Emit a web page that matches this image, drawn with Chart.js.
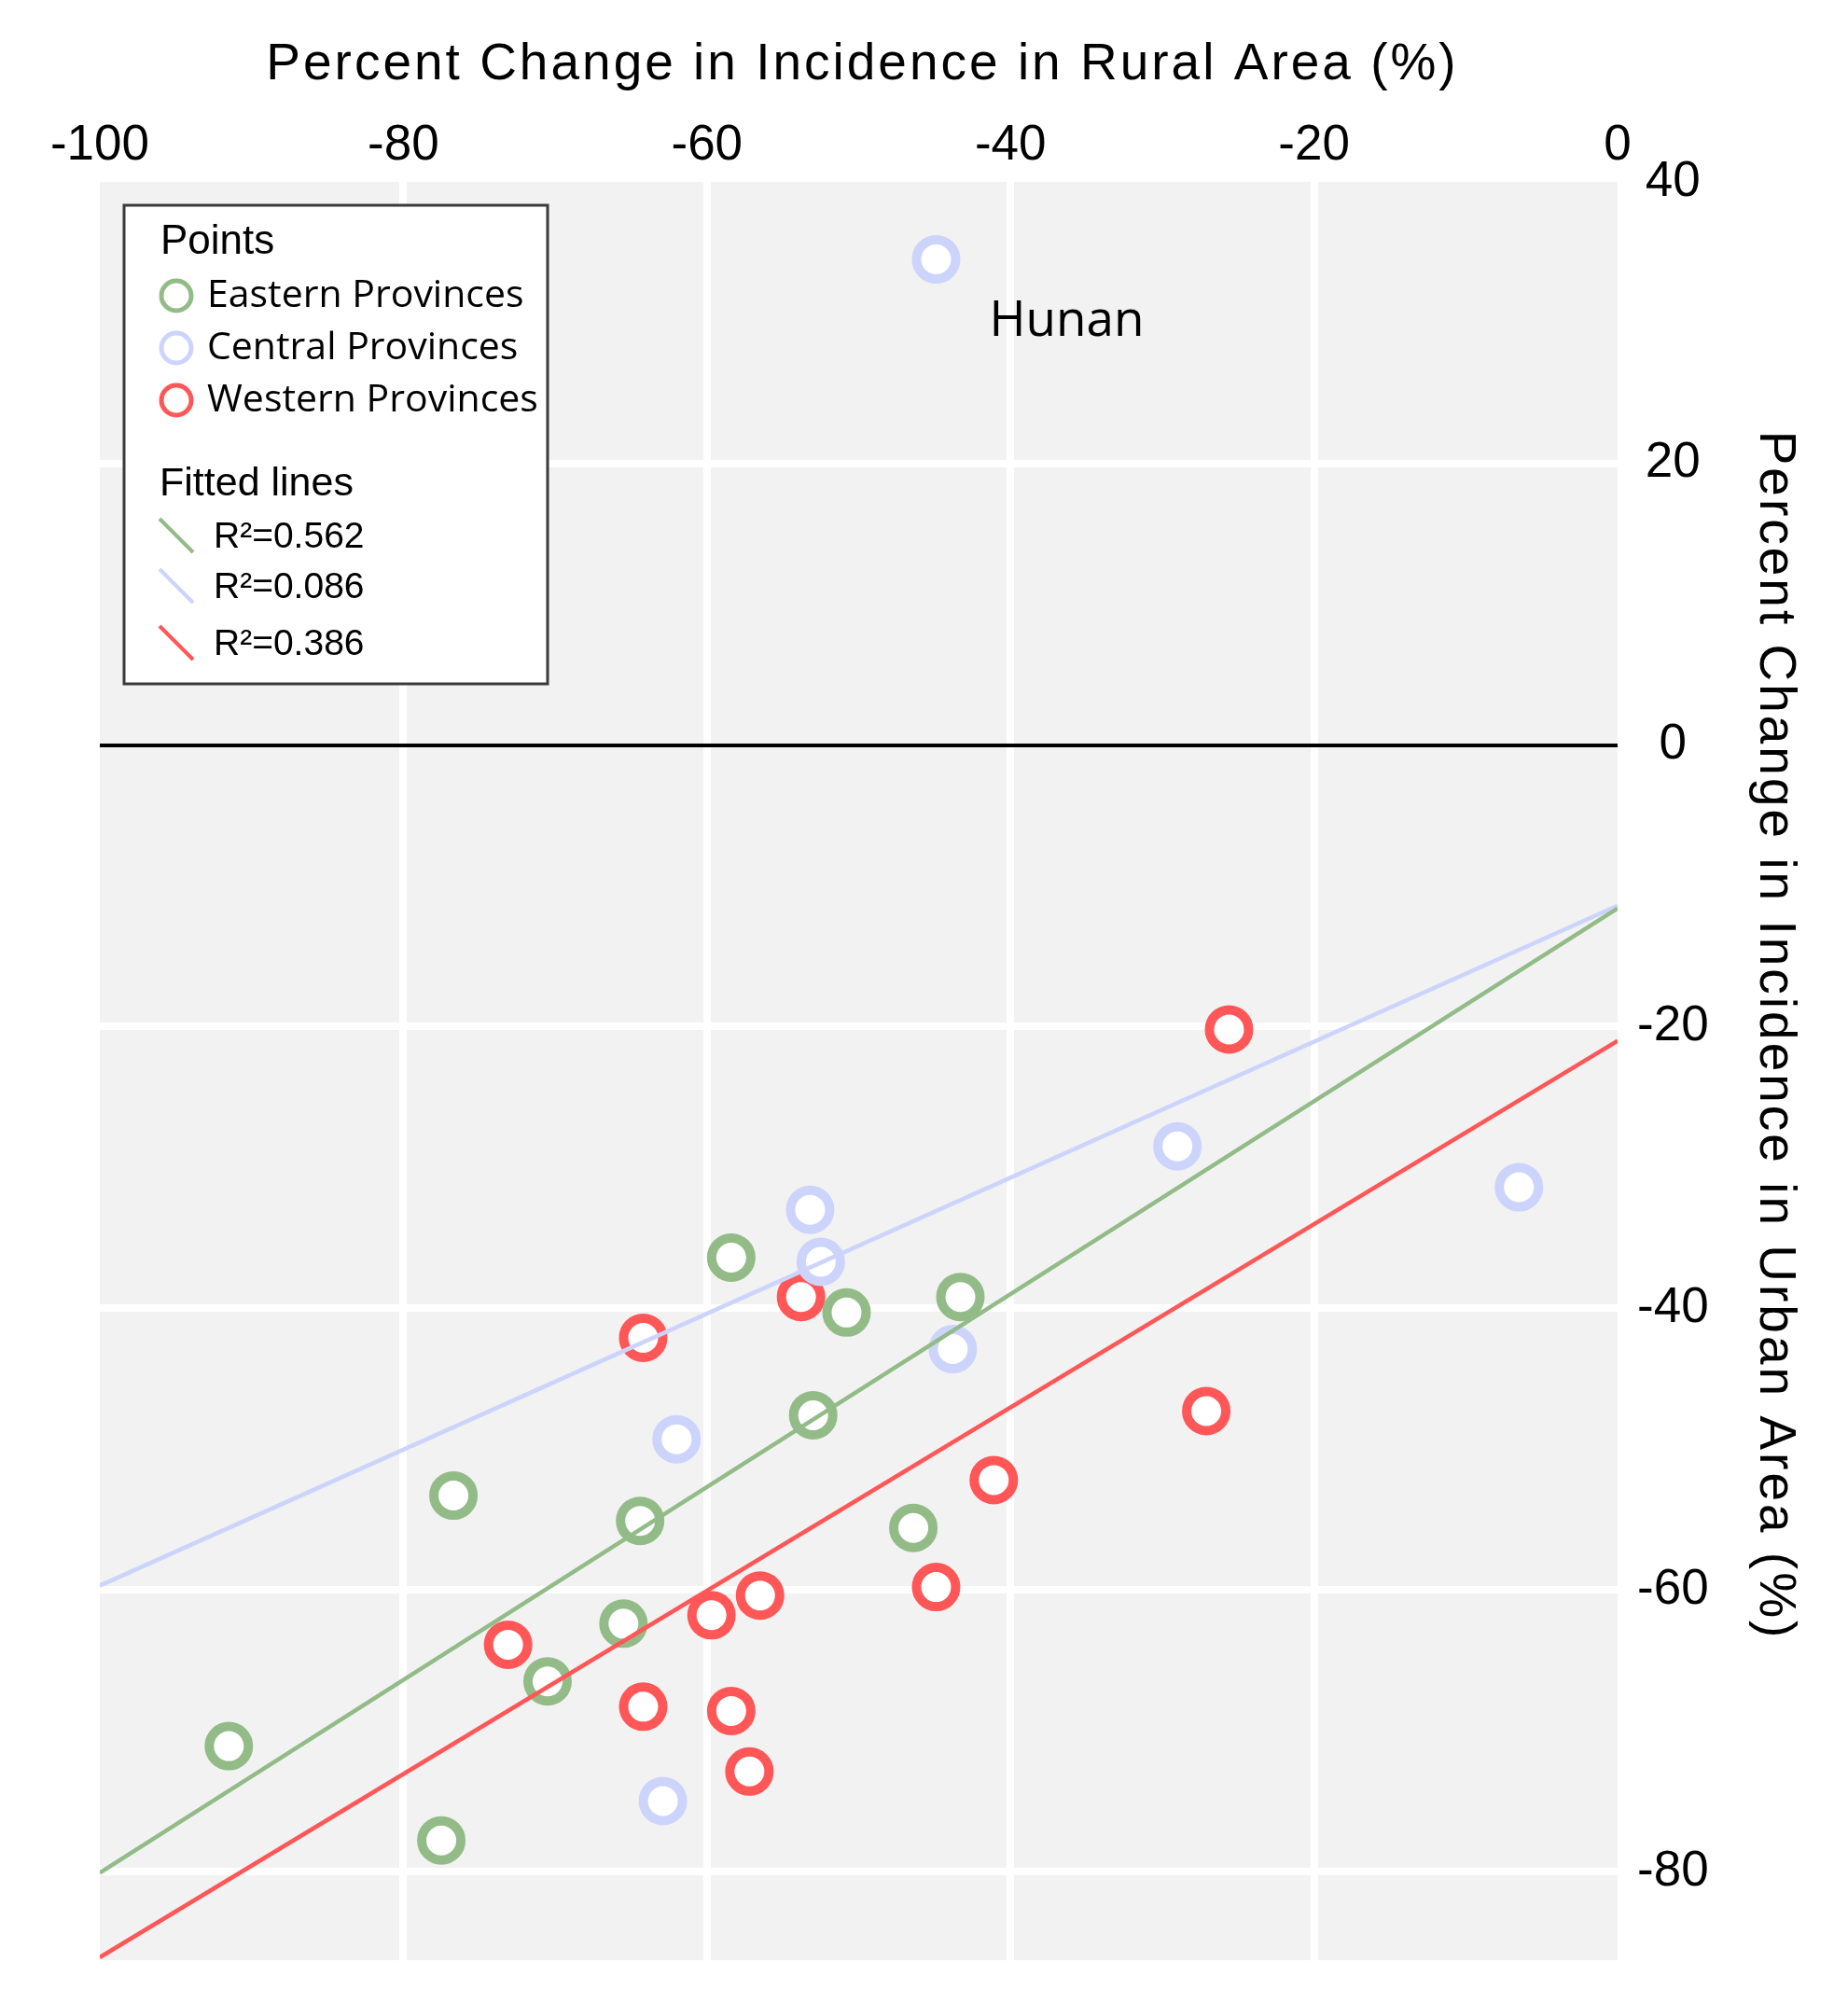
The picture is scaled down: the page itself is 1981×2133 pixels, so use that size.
<!DOCTYPE html>
<html>
<head>
<meta charset="utf-8">
<title>Percent change in incidence, rural vs urban</title>
<script src="https://cdn.jsdelivr.net/npm/chart.js"></script>
<style>
  html, body { margin: 0; padding: 0; background: #fff; }
  #scatterChart { display: block; }
</style>
</head>
<body>
<canvas id="scatterChart" width="1981" height="2133"></canvas>
<script>
// Eastern provinces (x = rural %, y = urban %)
const eastX = [-91.5, -77.5, -76.7, -70.5, -65.5, -64.4, -58.4, -53.0, -50.8, -46.4, -43.3];
const eastY = [-71.1, -77.8, -53.3, -66.5, -62.4, -55.1, -36.4, -47.6, -40.3, -55.6, -39.2];

// Central provinces, first one is Hunan
const centralX = [-44.9, -62.9, -62.0, -53.2, -52.5, -43.8, -29.0, -6.5];
const centralY = [34.5, -75.0, -49.3, -33.0, -36.7, -42.9, -28.5, -31.4];
const hunanIndex = 0;

// Western provinces
const westX = [-73.1, -64.2, -64.2, -59.7, -58.4, -57.2, -56.5, -53.8, -44.9, -41.1, -27.1, -25.6];
const westY = [-63.9, -42.1, -68.3, -61.8, -68.6, -72.9, -60.4, -39.2, -59.8, -52.2, -47.3, -20.2];

// fitted lines, ends
const fitX = [-100, 0];
const eastFitY = [-80.1, -11.6];
const centralFitY = [-59.7, -11.4];
const westFitY = [-86.1, -21.0];

const groupLabels = ['Eastern Provinces', 'Central Provinces', 'Western Provinces'];
const fitLabels = ['R\u00b2=0.562', 'R\u00b2=0.086', 'R\u00b2=0.386'];
const groupColors = ['#93bb88', '#cdd4fc', '#ff5757'];

const xTitle = 'Percent Change in Incidence in Rural Area (%)';
const yTitle = 'Percent Change in Incidence in Urban Area (%)';


function toPoints(xs, ys) {
    return xs.map((x, i) => ({ x: x, y: ys[i] }));
}

function pointSet(label, xs, ys, color) {
    return {
        label: label,
        data: toPoints(xs, ys),
        showLine: false,
        pointRadius: 21,
        pointHoverRadius: 21,
        pointBorderWidth: 10,
        pointBorderColor: color,
        pointBackgroundColor: '#ffffff',
        order: 2
    };
}

function fitSet(label, ys, color) {
    return {
        label: label,
        data: toPoints(fitX, ys),
        showLine: true,
        borderColor: color,
        borderWidth: 4.5,
        pointRadius: 0,
        pointHoverRadius: 0,
        fill: false,
        order: 1
    };
}

// gray panel behind the grid
const panelPlugin = {
    id: 'panel',
    beforeDraw(chart) {
        const { ctx, chartArea: a } = chart;
        ctx.save();
        ctx.fillStyle = '#ffffff';
        ctx.fillRect(0, 0, chart.width, chart.height);
        ctx.fillStyle = '#f2f2f2';
        ctx.fillRect(a.left, a.top, a.right - a.left, a.bottom - a.top);
        ctx.restore();
    }
};

// axis titles are letter-spaced, so they are drawn here
const titlesPlugin = {
    id: 'titles',
    afterDraw(chart) {
        const { ctx, chartArea: a } = chart;
        ctx.save();
        ctx.fillStyle = '#000';
        ctx.font = '55px "Liberation Sans"';
        ctx.letterSpacing = '3px';
        ctx.textAlign = 'center';
        ctx.textBaseline = 'alphabetic';
        ctx.fillText(xTitle, (a.left + a.right) / 2 + 4, 85);

        ctx.translate(a.right + 153, (a.top + a.bottom) / 2 - 38);
        ctx.rotate(Math.PI / 2);
        ctx.fillText(yTitle, 0, 0);
        ctx.restore();
    }
};

const hunanPlugin = {
    id: 'hunan',
    afterDatasetsDraw(chart) {
        const pt = chart.getDatasetMeta(1).data[hunanIndex];
        if (!pt) return;
        const ctx = chart.ctx;
        ctx.save();
        ctx.fillStyle = '#000';
        ctx.font = '53px "Open Sans"';
        ctx.textAlign = 'center';
        ctx.textBaseline = 'alphabetic';
        ctx.fillText('Hunan', pt.x + 140, pt.y + 82);
        ctx.restore();
    }
};

// legend with two groups: points and fitted lines
const boxLegendPlugin = {
    id: 'boxLegend',
    afterDraw(chart) {
        const { ctx, chartArea: a } = chart;
        const bx = a.left + 26;
        const by = a.top + 25;
        ctx.save();
        ctx.fillStyle = '#ffffff';
        ctx.fillRect(bx, by, 454, 513);
        ctx.strokeStyle = '#3a3a3a';
        ctx.lineWidth = 3;
        ctx.strokeRect(bx, by, 454, 513);

        ctx.fillStyle = '#000';
        ctx.textAlign = 'left';
        ctx.textBaseline = 'middle';
        ctx.font = '44px "Liberation Sans"';
        ctx.fillText('Points', bx + 39, by + 40);

        groupLabels.forEach((label, i) => {
            const cy = by + 97 + i * 56;
            ctx.beginPath();
            ctx.arc(bx + 56, cy, 16, 0, Math.PI * 2);
            ctx.strokeStyle = groupColors[i];
            ctx.lineWidth = 5;
            ctx.stroke();
            ctx.fillStyle = '#000';
            ctx.font = '41px "Open Sans"';
            ctx.fillText(label, bx + 89, cy, 355);
        });

        ctx.font = '43px "Liberation Sans"';
        ctx.fillText('Fitted lines', bx + 38, by + 299);

        const rowY = [354, 408, 469];
        fitLabels.forEach((label, i) => {
            const cy = by + rowY[i];
            ctx.beginPath();
            ctx.moveTo(bx + 38, cy - 18);
            ctx.lineTo(bx + 74, cy + 18);
            ctx.strokeStyle = groupColors[i];
            ctx.lineWidth = 4;
            ctx.stroke();
            ctx.fillStyle = '#000';
            ctx.font = '39px "Liberation Sans"';
            ctx.fillText(label, bx + 96, cy + 2);
        });
        ctx.restore();
    }
};

function gridColor(edges) {
    return (c) => {
        const v = c.tick ? c.tick.value : null;
        if (v === 0 && c.scale.axis === 'y') return '#000000';
        if (edges.includes(v)) return 'rgba(0,0,0,0)';
        return '#ffffff';
    };
}

const tickFont = { family: 'Liberation Sans', size: 53 };

const ctx = document.getElementById('scatterChart').getContext('2d');
const scatterChartInstance = new Chart(ctx, {
    type: 'scatter',
    data: {
        datasets: [
            pointSet(groupLabels[0], eastX, eastY, groupColors[0]),
            pointSet(groupLabels[1], centralX, centralY, groupColors[1]),
            pointSet(groupLabels[2], westX, westY, groupColors[2]),
            fitSet(fitLabels[0], eastFitY, groupColors[0]),
            fitSet(fitLabels[1], centralFitY, groupColors[1]),
            fitSet(fitLabels[2], westFitY, groupColors[2])
        ]
    },
    options: {
        responsive: false,
        devicePixelRatio: 1,
        animation: false,
        layout: { padding: { left: 107, right: 0, top: 0, bottom: 32 } },
        plugins: {
            legend: { display: false },
            tooltip: { enabled: false }
        },
        scales: {
            x: {
                type: 'linear',
                position: 'top',
                min: -100,
                max: 0,
                ticks: { stepSize: 20, color: '#000', font: tickFont, padding: 7, maxRotation: 0 },
                grid: { color: gridColor([-100, 0]), lineWidth: 8, drawTicks: false },
                border: { display: false },
                afterFit: (scale) => { scale.height = 195; }
            },
            y: {
                type: 'linear',
                position: 'right',
                min: -86.3,
                max: 40,
                ticks: { stepSize: 20, includeBounds: false, color: '#000', font: tickFont, padding: 21, crossAlign: 'center' },
                grid: {
                    color: gridColor([40]),
                    lineWidth: (c) => (c.tick && c.tick.value === 0 ? 4 : 8),
                    drawTicks: false
                },
                border: { display: false },
                afterFit: (scale) => {
                    scale.width = 247;
                    scale.paddingTop = 0;
                    scale.paddingBottom = 0;
                }
            }
        }
    },
    plugins: [panelPlugin, hunanPlugin, boxLegendPlugin, titlesPlugin]
});
</script>
</body>
</html>
